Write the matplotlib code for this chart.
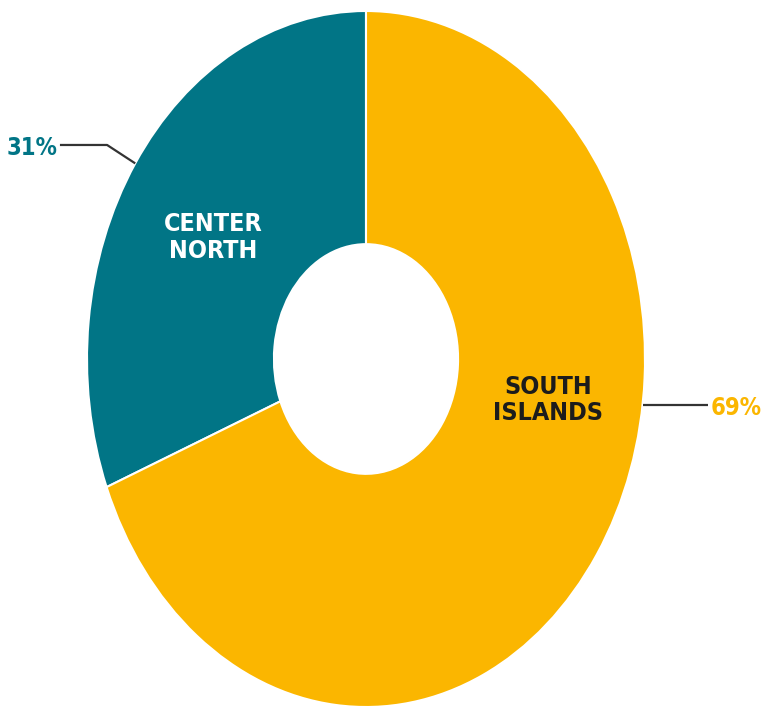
import numpy as np
import matplotlib
matplotlib.use("Agg")
import matplotlib.pyplot as plt

# Data
categories = ["CENTER\nNORTH", "SOUTH\nISLANDS"]
values = [31, 69]
pct_labels = ["31%", "69%"]
colors = ["#017586", "#FBB600"]
inner_text_colors = ["#FFFFFF", "#1C1C1C"]

W, H = 763, 708
fig = plt.figure(figsize=(W / 100, H / 100), dpi=100)
left, right, top, bottom = 87, 645, 11, 707
ax = fig.add_axes([left / W, (H - bottom) / H, (right - left) / W, (bottom - top) / H])

wedges, _ = ax.pie(values, colors=colors, startangle=90, counterclock=True,
                   radius=1.0,
                   wedgeprops=dict(width=0.67, edgecolor="white", linewidth=1.5))
ax.set_xlim(-1, 1)
ax.set_ylim(-1, 1)
ax.set_aspect("auto")
ax.axis("off")

font = dict(family=["DejaVu Sans"], fontstretch="condensed", fontweight="bold")

inner_pos = [(-0.548, 0.350), (0.652, -0.118)]
for (x, y), txt, c in zip(inner_pos, categories, inner_text_colors):
    ax.text(x, y, txt, ha="center", va="center", color=c, fontsize=18,
            linespacing=1.15, **font)

w0 = wedges[0]
mid0 = np.deg2rad((w0.theta1 + w0.theta2) / 2)
p_edge = (np.cos(mid0), np.sin(mid0))
elbow = (-0.928, 0.615)
end = (-1.097, 0.615)
ax.plot([p_edge[0], elbow[0], end[0]], [p_edge[1], elbow[1], end[1]],
        color="#333333", lw=1.6, clip_on=False, solid_capstyle="butt")
ax.text(end[0] - 0.008, end[1] - 0.008, pct_labels[0], ha="right", va="center",
        color=colors[0], fontsize=17, **font)

y1 = -0.132
x_edge = np.sqrt(1 - y1 ** 2)
end1 = (1.225, y1)
ax.plot([x_edge, end1[0]], [y1, y1], color="#333333", lw=1.6, clip_on=False,
        solid_capstyle="butt")
ax.text(end1[0] + 0.01, y1 - 0.008, pct_labels[1], ha="left", va="center",
        color=colors[1], fontsize=17, **font)

fig.savefig("out.png", dpi=100, facecolor="white")
